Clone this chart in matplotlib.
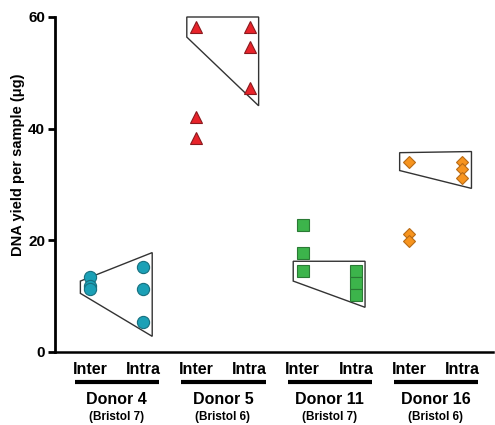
import matplotlib
matplotlib.use("Agg")
import matplotlib.pyplot as plt
from matplotlib.patches import Polygon
import matplotlib.transforms as mtransforms

plt.rcParams['font.family'] = ['Liberation Sans', 'DejaVu Sans']

donors = ["Donor 4", "Donor 5", "Donor 11", "Donor 16"]
bristol = ["(Bristol 7)", "(Bristol 6)", "(Bristol 7)", "(Bristol 6)"]
sub_labels = ["Inter", "Intra"]

inter_vals = [
    [13.5, 11.8, 11.3],
    [58.2, 42.1, 38.4],
    [22.7, 17.7, 14.5],
    [34.1, 21.1, 19.8],
]
intra_vals = [
    [15.2, 11.3, 5.4],
    [58.2, 54.7, 47.3],
    [14.5, 12.4, 10.2],
    [34.1, 32.7, 31.2],
]
# envelope polygons: inter top, inter bottom, intra top, intra bottom
env_inter_top = [12.7, 60.0, 16.25, 35.7]
env_inter_bot = [10.5, 56.4, 12.7, 32.5]
env_intra_top = [17.8, 60.0, 16.25, 35.9]
env_intra_bot = [2.8, 44.1, 8.0, 29.3]

yticks = [0, 20, 40, 60]

markers = ['o', '^', 's', 'D']
msizes = [8.8, 8.6, 8.6, 6.3]
facecolors = ['#1BA0B6', '#E8232A', '#3CB44B', '#F7941E']
edgecolors = ['#17707F', '#8A1A1E', '#2A7A35', '#B86A15']

fig = plt.figure(figsize=(4.95, 4.25), dpi=100)
ax = fig.add_axes([0.111, 0.1718, 0.885, 0.7882])

for i in range(4):
    xi = 2 * i
    xj = 2 * i + 1
    poly = Polygon([(xi - 0.18, env_inter_top[i]), (xj + 0.17, env_intra_top[i]),
                    (xj + 0.17, env_intra_bot[i]), (xi - 0.18, env_inter_bot[i])],
                   closed=True, facecolor='white', edgecolor='#333333', lw=1.0,
                   zorder=2, clip_on=False)
    ax.add_patch(poly)
    ax.plot([xi] * len(inter_vals[i]), inter_vals[i], linestyle='none',
            marker=markers[i], ms=msizes[i], mfc=facecolors[i], mec=edgecolors[i],
            mew=0.8, zorder=3, clip_on=False)
    ax.plot([xj] * len(intra_vals[i]), intra_vals[i], linestyle='none',
            marker=markers[i], ms=msizes[i], mfc=facecolors[i], mec=edgecolors[i],
            mew=0.8, zorder=3, clip_on=False)

ax.set_xlim(-0.658, 7.575)
ax.set_ylim(0, 60)
ax.set_yticks(yticks)
ax.set_yticklabels([str(t) for t in yticks], fontsize=11, fontweight='bold')
ax.set_xticks([])
for s in ['top', 'right']:
    ax.spines[s].set_visible(False)
ax.spines['left'].set_linewidth(2)
ax.spines['bottom'].set_linewidth(1.8)
ax.tick_params(axis='y', direction='out', length=5, width=2, pad=2)
fig.text(18 / 495, 1 - 165 / 425, "DNA yield per sample (μg)", rotation=90,
         ha='center', va='center', fontsize=10.5, fontweight='bold')

trans = mtransforms.blended_transform_factory(ax.transData, fig.transFigure)
for i in range(4):
    xi = 2 * i
    xj = 2 * i + 1
    ax.text(xi, 1 - 370 / 425, sub_labels[0], transform=trans, ha='center', va='center',
            fontsize=11.5, fontweight='bold')
    ax.text(xj, 1 - 370 / 425, sub_labels[1], transform=trans, ha='center', va='center',
            fontsize=11.5, fontweight='bold')
    ax.plot([xi - 0.28, xj + 0.3], [1 - 382 / 425] * 2, transform=trans, color='black',
            lw=3, clip_on=False, solid_capstyle='butt')
    ax.text(xi + 0.5, 1 - 399 / 425, donors[i], transform=trans, ha='center', va='center',
            fontsize=11.5, fontweight='bold')
    ax.text(xi + 0.5, 1 - 417 / 425, bristol[i], transform=trans, ha='center', va='center',
            fontsize=8.5, fontweight='bold')

fig.savefig("out.png", dpi=100)
